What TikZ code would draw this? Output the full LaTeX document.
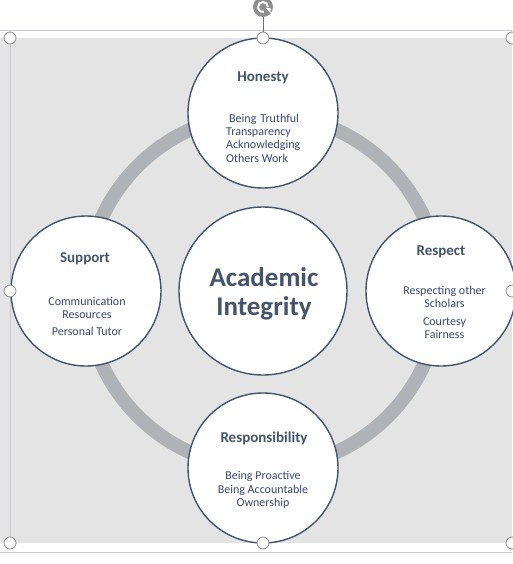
\documentclass[tikz,border=0pt]{standalone}
\usepackage{fontspec}
\setmainfont{Carlito}
\usetikzlibrary{arrows.meta}
\definecolor{bgc}{HTML}{E4E4E4}
\definecolor{framec}{HTML}{C9C9CF}
\definecolor{ringc}{HTML}{AFB2B7}
\definecolor{slate}{HTML}{44546A}
\definecolor{itemc}{HTML}{3A4870}
\definecolor{handc}{HTML}{8E8E8E}
\tikzset{
  bubble/.style={circle, draw=slate, line width=1.4pt, fill=white, minimum size=150pt, inner sep=0pt},
  core/.style={circle, draw=slate, line width=1.4pt, fill=white, minimum size=168pt, inner sep=0pt},
  ttl/.style={text=slate, font=\fontsize{15}{17}\selectfont\bfseries, inner sep=0pt},
  itm/.style={text=itemc, font=\fontsize{12}{13.3}\selectfont, inner sep=0pt, align=center},
  handle/.style={circle, draw=handc, line width=0.8pt, fill=white, minimum size=12pt, inner sep=0pt},
  frameline/.style={draw=framec, line width=0.8pt}
}
\begin{document}
\begin{tikzpicture}[x=1pt,y=-1pt]
\useasboundingbox (0,0) rectangle (512,564);
\fill[white] (0,0) rectangle (512,564);
\fill[bgc] (0,38) rectangle (512,543);
\draw[frameline] (0,30) -- (512,30);
\draw[frameline] (0,552) -- (512,552);
\draw[frameline] (10,38) -- (10,543);
% ring
\draw[ringc, line width=14pt] (263,291) circle (177pt);
% circles
\node[bubble] (hon) at (263,113) {};
\node[bubble] (sup) at (86,291) {};
\node[bubble] (res) at (441,291) {};
\node[bubble] (rsp) at (263,468) {};
\node[core] (ai) at (263,291) {};
% texts
\node[ttl] (honT) at (263,78) {Honesty};
\node[itm, align=left, anchor=west] (honI) at (226,138) {\hspace{3pt}Being\hspace{4pt}Truthful\\Transparency\\Acknowledging\\Others Work};
\node[ttl] (supT) at (85,259) {Support};
\node[itm] (supI) at (87,316.5) {Communication\\Resources\\[4pt]Personal Tutor};
\node[ttl] (resT) at (441,252) {Respect};
\node[itm] (resI) at (444.5,312.5) {Respecting other\\Scholars\\[4pt]Courtesy\\Fairness};
\node[ttl] (rspT) at (264,438.5) {Responsibility};
\node[itm] (rspI) at (263,490) {Being Proactive\\Being Accountable\\Ownership};
\node[text=slate, font=\fontsize{27}{29.5}\selectfont\bfseries, align=center, inner sep=0pt] (aiT) at (264,294) {Academic\\Integrity};
% selection handles
\coordinate (rotc) at (263,7);
\node[handle] (h1) at (10,38) {};
\node[handle] (h2) at (263,38) {};
\node[handle] (h3) at (512,38) {};
\node[handle] (h4) at (10,291) {};
\node[handle] (h5) at (512,291) {};
\node[handle] (h6) at (10,543) {};
\node[handle] (h7) at (263,543) {};
\node[handle] (h8) at (512,543) {};
\node[circle, fill=handc, minimum size=20pt, inner sep=0pt] (rot) at (rotc) {};
\draw[handc!80!black, line width=0.8pt] (rot) -- (h2);
\draw[white, line width=2pt] (rot.center) ++(5pt,0) arc[start angle=0, end angle=280, radius=5pt];
\fill[white] (rot.center) ++(2.5pt,-1pt) -- ++(5pt,0pt) -- ++(0pt,-5pt) -- cycle;
\end{tikzpicture}
\end{document}
